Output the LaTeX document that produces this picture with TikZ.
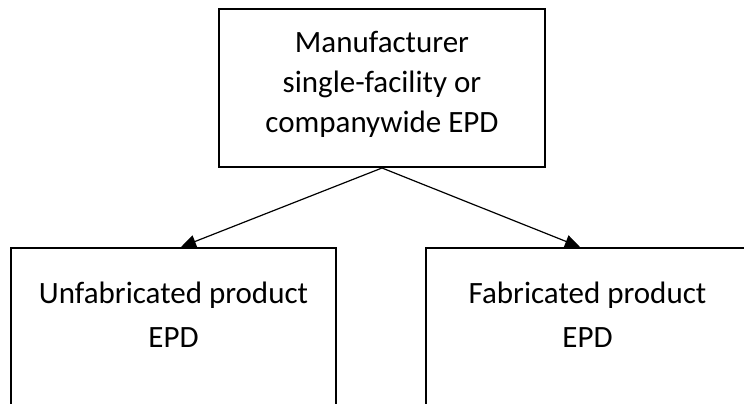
\documentclass[tikz,border=0pt]{standalone}
\usepackage{fontspec}
\setmainfont{Carlito}
\usetikzlibrary{arrows.meta,positioning}

\begin{document}
\begin{tikzpicture}[x=1pt,y=-1pt,
    box/.style={rectangle, draw, line width=2pt, inner sep=0pt},
    boxtext/.style={align=center, inner sep=0pt, font=\fontsize{31}{43.5}\selectfont},
    arr/.style={-{Triangle[length=15pt,width=13pt]}, line width=1.2pt}]
	\useasboundingbox (0,0) rectangle (744,404);
	\clip (0,0) rectangle (744,404);
	
	\node[box, minimum width=326pt, minimum height=158pt, align=center, font=\fontsize{31}{40}\selectfont] (manuf) at (382,88) {Manufacturer\\single-facility or\\companywide EPD\rule[-12pt]{0pt}{0pt}};
	
	\node[box, minimum width=325pt, minimum height=200pt, anchor=north] (unfab) at (173.5,247) {};
	\node[boxtext, below=35pt of unfab.north] (unfabtext) {Unfabricated product\\EPD};
	\node[box, minimum width=345pt, minimum height=200pt, anchor=north west] (fab) at (425,247) {};
	\node[boxtext, anchor=north] (fabtext) at ([shift={(162.5pt,-35pt)}]fab.north west) {Fabricated product\\EPD};
	
	\coordinate (unfabin) at ([xshift=7.5pt]unfab.north);
	\coordinate (fabin) at ([xshift=155pt]fab.north west);
	
	\draw[arr] (manuf.south) -- (unfabin); % to unfabricated
	\draw[arr] (manuf.south) -- (fabin); % to fabricated
	
\end{tikzpicture}
\end{document}
